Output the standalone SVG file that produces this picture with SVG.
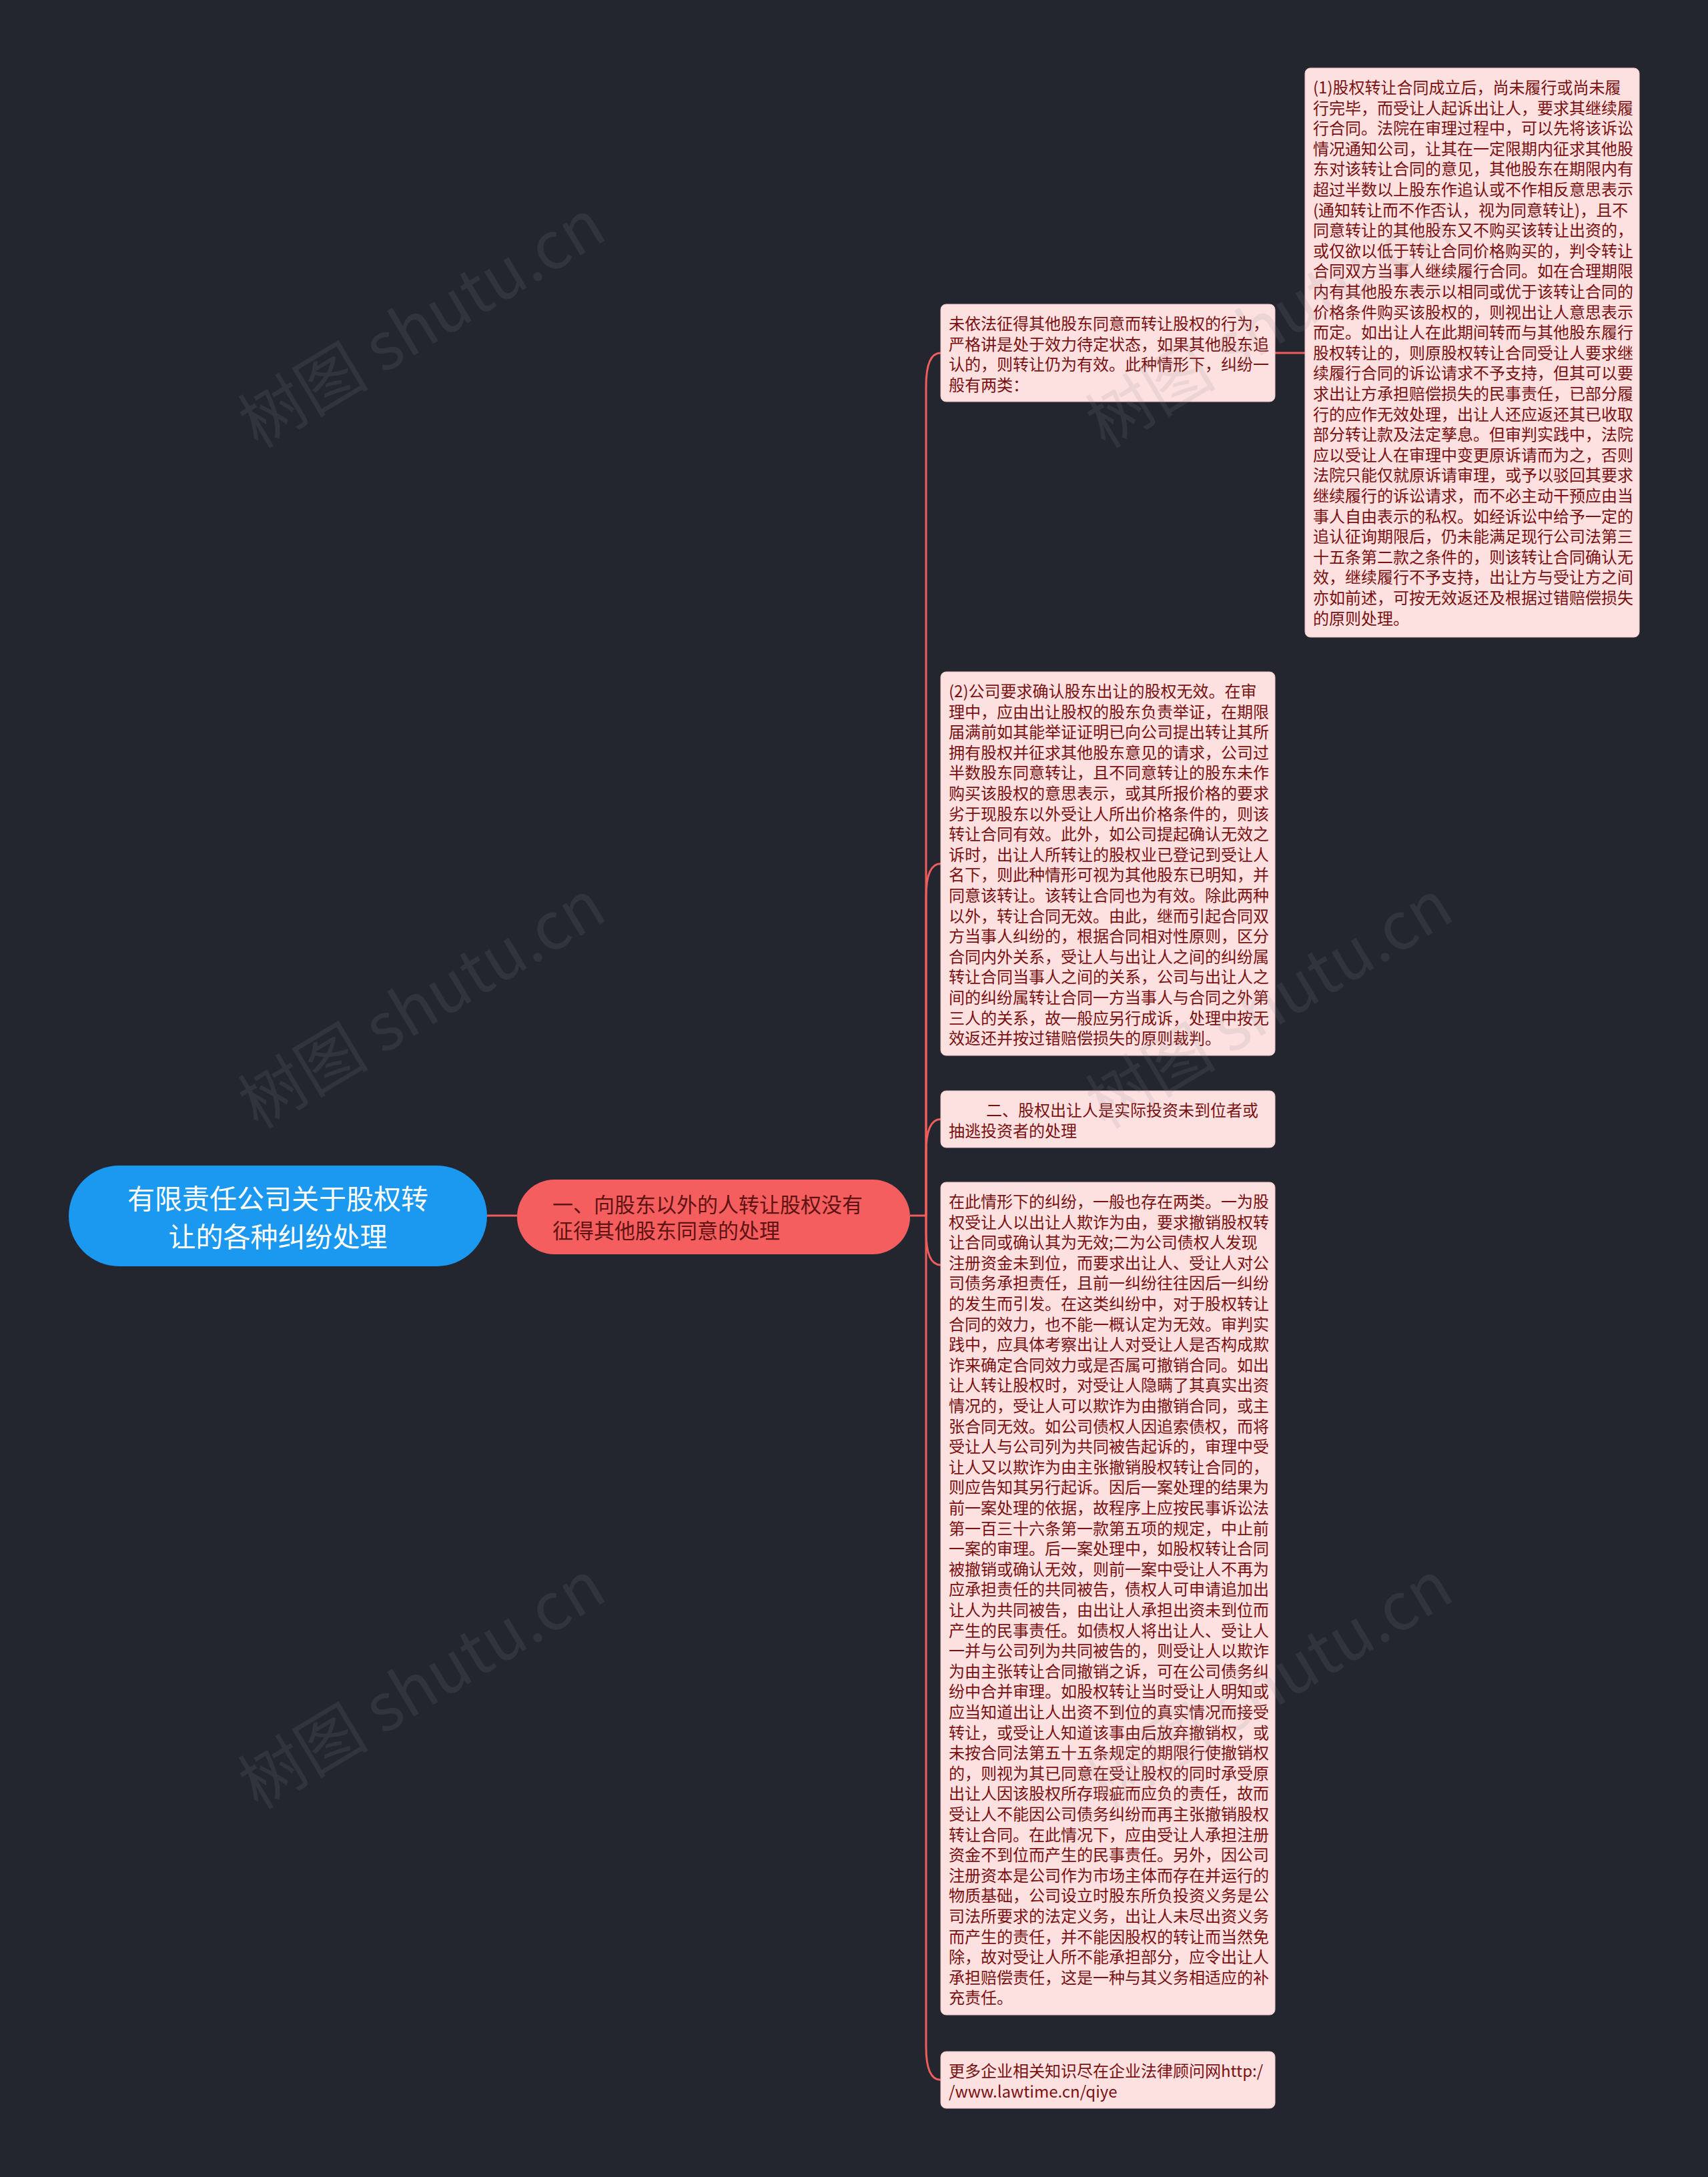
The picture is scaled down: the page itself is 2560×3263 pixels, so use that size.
<svg xmlns="http://www.w3.org/2000/svg" width="2560" height="3263" viewBox="0 0 2560 3263">
<defs>
<style>
.bg{fill:#23262f}
.leaf rect{fill:#fde1e1;stroke:#eec4c4;stroke-width:1}
.leaf text{font-family:"Noto Sans CJK SC","Noto Sans",sans-serif;font-size:24px;fill:#7a1010}
.conn path{fill:none;stroke:#f05d5d;stroke-width:3}
.wm{font-family:"Noto Sans CJK SC","Noto Sans",sans-serif;font-size:98px;fill:#8a8a8a;opacity:0.14}
</style>
</defs>
<rect class="bg" x="0" y="0" width="2560" height="3263"/>
<g id="connectors" class="conn">
<path d="M730,1822 L775,1822"/>
<path d="M1364,1822 L1388,1822"/>
<path d="M1388,1822 L1388,579 Q1388,529 1410,529"/>
<path d="M1388,1822 L1388,1344.5 Q1388,1294.5 1410,1294.5"/>
<path d="M1388,1822 L1388,1727.5 Q1388,1677.5 1410,1677.5"/>
<path d="M1388,1822 L1388,1846 Q1388,1896 1410,1896"/>
<path d="M1388,1822 L1388,3067.5 Q1388,3117.5 1410,3117.5"/>
<path d="M1911,529 L1956,529"/>
</g>
<g id="root">
<rect x="103" y="1747" width="627" height="151" rx="75.5" fill="#1b98ef"/>
<text x="416.5" text-anchor="middle" font-family="'Noto Sans CJK SC','Noto Sans',sans-serif" font-size="41" fill="#ffffff"><tspan x="416.5" y="1812">有限责任公司关于股权转</tspan><tspan x="416.5" y="1869">让的各种纠纷处理</tspan></text>
</g>
<g id="n-main">
<rect x="775" y="1768" width="589" height="112" rx="56" fill="#f55e5e"/>
<text font-family="'Noto Sans CJK SC','Noto Sans',sans-serif" font-size="31" fill="#5e1212"><tspan x="828" y="1817">一、向股东以外的人转让股权没有</tspan><tspan x="828" y="1856">征得其他股东同意的处理</tspan></text>
</g>
<g id="n1" class="leaf">
<rect x="1410" y="456" width="501" height="146" rx="8"/>
<text><tspan x="1422" y="494">未依法征得其他股东同意而转让股权的行为，</tspan><tspan x="1422" dy="30.6">严格讲是处于效力待定状态，如果其他股东追</tspan><tspan x="1422" dy="30.6">认的，则转让仍为有效。此种情形下，纠纷一</tspan><tspan x="1422" dy="30.6">般有两类：</tspan></text>
</g>
<g id="n1a" class="leaf">
<rect x="1956" y="102" width="501" height="853" rx="8"/>
<text><tspan x="1968" y="140">(1)股权转让合同成立后，尚未履行或尚未履</tspan><tspan x="1968" dy="30.6">行完毕，而受让人起诉出让人，要求其继续履</tspan><tspan x="1968" dy="30.6">行合同。法院在审理过程中，可以先将该诉讼</tspan><tspan x="1968" dy="30.6">情况通知公司，让其在一定限期内征求其他股</tspan><tspan x="1968" dy="30.6">东对该转让合同的意见，其他股东在期限内有</tspan><tspan x="1968" dy="30.6">超过半数以上股东作追认或不作相反意思表示</tspan><tspan x="1968" dy="30.6">(通知转让而不作否认，视为同意转让)，且不</tspan><tspan x="1968" dy="30.6">同意转让的其他股东又不购买该转让出资的，</tspan><tspan x="1968" dy="30.6">或仅欲以低于转让合同价格购买的，判令转让</tspan><tspan x="1968" dy="30.6">合同双方当事人继续履行合同。如在合理期限</tspan><tspan x="1968" dy="30.6">内有其他股东表示以相同或优于该转让合同的</tspan><tspan x="1968" dy="30.6">价格条件购买该股权的，则视出让人意思表示</tspan><tspan x="1968" dy="30.6">而定。如出让人在此期间转而与其他股东履行</tspan><tspan x="1968" dy="30.6">股权转让的，则原股权转让合同受让人要求继</tspan><tspan x="1968" dy="30.6">续履行合同的诉讼请求不予支持，但其可以要</tspan><tspan x="1968" dy="30.6">求出让方承担赔偿损失的民事责任，已部分履</tspan><tspan x="1968" dy="30.6">行的应作无效处理，出让人还应返还其已收取</tspan><tspan x="1968" dy="30.6">部分转让款及法定孳息。但审判实践中，法院</tspan><tspan x="1968" dy="30.6">应以受让人在审理中变更原诉请而为之，否则</tspan><tspan x="1968" dy="30.6">法院只能仅就原诉请审理，或予以驳回其要求</tspan><tspan x="1968" dy="30.6">继续履行的诉讼请求，而不必主动干预应由当</tspan><tspan x="1968" dy="30.6">事人自由表示的私权。如经诉讼中给予一定的</tspan><tspan x="1968" dy="30.6">追认征询期限后，仍未能满足现行公司法第三</tspan><tspan x="1968" dy="30.6">十五条第二款之条件的，则该转让合同确认无</tspan><tspan x="1968" dy="30.6">效，继续履行不予支持，出让方与受让方之间</tspan><tspan x="1968" dy="30.6">亦如前述，可按无效返还及根据过错赔偿损失</tspan><tspan x="1968" dy="30.6">的原则处理。</tspan></text>
</g>
<g id="n2" class="leaf">
<rect x="1410" y="1007" width="501" height="575" rx="8"/>
<text><tspan x="1422" y="1045">(2)公司要求确认股东出让的股权无效。在审</tspan><tspan x="1422" dy="30.6">理中，应由出让股权的股东负责举证，在期限</tspan><tspan x="1422" dy="30.6">届满前如其能举证证明已向公司提出转让其所</tspan><tspan x="1422" dy="30.6">拥有股权并征求其他股东意见的请求，公司过</tspan><tspan x="1422" dy="30.6">半数股东同意转让，且不同意转让的股东未作</tspan><tspan x="1422" dy="30.6">购买该股权的意思表示，或其所报价格的要求</tspan><tspan x="1422" dy="30.6">劣于现股东以外受让人所出价格条件的，则该</tspan><tspan x="1422" dy="30.6">转让合同有效。此外，如公司提起确认无效之</tspan><tspan x="1422" dy="30.6">诉时，出让人所转让的股权业已登记到受让人</tspan><tspan x="1422" dy="30.6">名下，则此种情形可视为其他股东已明知，并</tspan><tspan x="1422" dy="30.6">同意该转让。该转让合同也为有效。除此两种</tspan><tspan x="1422" dy="30.6">以外，转让合同无效。由此，继而引起合同双</tspan><tspan x="1422" dy="30.6">方当事人纠纷的，根据合同相对性原则，区分</tspan><tspan x="1422" dy="30.6">合同内外关系，受让人与出让人之间的纠纷属</tspan><tspan x="1422" dy="30.6">转让合同当事人之间的关系，公司与出让人之</tspan><tspan x="1422" dy="30.6">间的纠纷属转让合同一方当事人与合同之外第</tspan><tspan x="1422" dy="30.6">三人的关系，故一般应另行成诉，处理中按无</tspan><tspan x="1422" dy="30.6">效返还并按过错赔偿损失的原则裁判。</tspan></text>
</g>
<g id="n3" class="leaf">
<rect x="1410" y="1635" width="501" height="85" rx="8"/>
<text><tspan x="1478" y="1673">二、股权出让人是实际投资未到位者或</tspan><tspan x="1422" dy="30.6">抽逃投资者的处理</tspan></text>
</g>
<g id="n4" class="leaf">
<rect x="1410" y="1772" width="501" height="1248" rx="8"/>
<text><tspan x="1422" y="1810">在此情形下的纠纷，一般也存在两类。一为股</tspan><tspan x="1422" dy="30.6">权受让人以出让人欺诈为由，要求撤销股权转</tspan><tspan x="1422" dy="30.6">让合同或确认其为无效;二为公司债权人发现</tspan><tspan x="1422" dy="30.6">注册资金未到位，而要求出让人、受让人对公</tspan><tspan x="1422" dy="30.6">司债务承担责任，且前一纠纷往往因后一纠纷</tspan><tspan x="1422" dy="30.6">的发生而引发。在这类纠纷中，对于股权转让</tspan><tspan x="1422" dy="30.6">合同的效力，也不能一概认定为无效。审判实</tspan><tspan x="1422" dy="30.6">践中，应具体考察出让人对受让人是否构成欺</tspan><tspan x="1422" dy="30.6">诈来确定合同效力或是否属可撤销合同。如出</tspan><tspan x="1422" dy="30.6">让人转让股权时，对受让人隐瞒了其真实出资</tspan><tspan x="1422" dy="30.6">情况的，受让人可以欺诈为由撤销合同，或主</tspan><tspan x="1422" dy="30.6">张合同无效。如公司债权人因追索债权，而将</tspan><tspan x="1422" dy="30.6">受让人与公司列为共同被告起诉的，审理中受</tspan><tspan x="1422" dy="30.6">让人又以欺诈为由主张撤销股权转让合同的，</tspan><tspan x="1422" dy="30.6">则应告知其另行起诉。因后一案处理的结果为</tspan><tspan x="1422" dy="30.6">前一案处理的依据，故程序上应按民事诉讼法</tspan><tspan x="1422" dy="30.6">第一百三十六条第一款第五项的规定，中止前</tspan><tspan x="1422" dy="30.6">一案的审理。后一案处理中，如股权转让合同</tspan><tspan x="1422" dy="30.6">被撤销或确认无效，则前一案中受让人不再为</tspan><tspan x="1422" dy="30.6">应承担责任的共同被告，债权人可申请追加出</tspan><tspan x="1422" dy="30.6">让人为共同被告，由出让人承担出资未到位而</tspan><tspan x="1422" dy="30.6">产生的民事责任。如债权人将出让人、受让人</tspan><tspan x="1422" dy="30.6">一并与公司列为共同被告的，则受让人以欺诈</tspan><tspan x="1422" dy="30.6">为由主张转让合同撤销之诉，可在公司债务纠</tspan><tspan x="1422" dy="30.6">纷中合并审理。如股权转让当时受让人明知或</tspan><tspan x="1422" dy="30.6">应当知道出让人出资不到位的真实情况而接受</tspan><tspan x="1422" dy="30.6">转让，或受让人知道该事由后放弃撤销权，或</tspan><tspan x="1422" dy="30.6">未按合同法第五十五条规定的期限行使撤销权</tspan><tspan x="1422" dy="30.6">的，则视为其已同意在受让股权的同时承受原</tspan><tspan x="1422" dy="30.6">出让人因该股权所存瑕疵而应负的责任，故而</tspan><tspan x="1422" dy="30.6">受让人不能因公司债务纠纷而再主张撤销股权</tspan><tspan x="1422" dy="30.6">转让合同。在此情况下，应由受让人承担注册</tspan><tspan x="1422" dy="30.6">资金不到位而产生的民事责任。另外，因公司</tspan><tspan x="1422" dy="30.6">注册资本是公司作为市场主体而存在并运行的</tspan><tspan x="1422" dy="30.6">物质基础，公司设立时股东所负投资义务是公</tspan><tspan x="1422" dy="30.6">司法所要求的法定义务，出让人未尽出资义务</tspan><tspan x="1422" dy="30.6">而产生的责任，并不能因股权的转让而当然免</tspan><tspan x="1422" dy="30.6">除，故对受让人所不能承担部分，应令出让人</tspan><tspan x="1422" dy="30.6">承担赔偿责任，这是一种与其义务相适应的补</tspan><tspan x="1422" dy="30.6">充责任。</tspan></text>
</g>
<g id="n5" class="leaf">
<rect x="1410" y="3075" width="501" height="85" rx="8"/>
<text><tspan x="1422" y="3113">更多企业相关知识尽在企业法律顾问网http:/</tspan><tspan x="1422" dy="30.6">/www.lawtime.cn/qiye</tspan></text>
</g>
<g id="watermarks">
<text class="wm" text-anchor="middle" transform="translate(650,515) rotate(-31)">树图 shutu.cn</text>
<text class="wm" text-anchor="middle" transform="translate(1920,515) rotate(-31)">树图 shutu.cn</text>
<text class="wm" text-anchor="middle" transform="translate(650,1535) rotate(-31)">树图 shutu.cn</text>
<text class="wm" text-anchor="middle" transform="translate(1920,1535) rotate(-31)">树图 shutu.cn</text>
<text class="wm" text-anchor="middle" transform="translate(650,2555) rotate(-31)">树图 shutu.cn</text>
<text class="wm" text-anchor="middle" transform="translate(1920,2555) rotate(-31)">树图 shutu.cn</text>
</g>
</svg>
